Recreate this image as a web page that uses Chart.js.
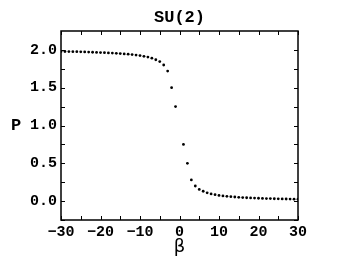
<!DOCTYPE html>
<html>
<head>
<meta charset="utf-8">
<script src="https://cdn.jsdelivr.net/npm/chart.js@4"></script>
<style>
    html, body { margin: 0; padding: 0; background: #fff; }
    #wrap { width: 346px; height: 265px; }
</style>
</head>
<body>
<div id="wrap"><canvas id="plot"></canvas></div>
<script>
// β qiymatlari (0 nuqtasi rasmda yo'q)
const betaValues = [
    -30, -29, -28, -27, -26, -25, -24, -23, -22, -21,
    -20, -19, -18, -17, -16, -15, -14, -13, -12, -11,
    -10, -9, -8, -7, -6, -5, -4, -3, -2, -1,
    1, 2, 3, 4, 5, 6, 7, 8, 9, 10,
    11, 12, 13, 14, 15, 16, 17, 18, 19, 20,
    21, 22, 23, 24, 25, 26, 27, 28, 29, 30
];

// P qiymatlari (rasmdan o'qilgan)
const pValues = [
    1.980, 1.979, 1.978, 1.977, 1.976, 1.974, 1.973, 1.971, 1.969, 1.967,
    1.965, 1.963, 1.960, 1.958, 1.955, 1.951, 1.947, 1.943, 1.938, 1.932,
    1.925, 1.915, 1.905, 1.890, 1.870, 1.845, 1.800, 1.720, 1.500, 1.250,
    0.750, 0.500, 0.280, 0.200, 0.155, 0.130, 0.110, 0.095, 0.085, 0.075,
    0.068, 0.063, 0.058, 0.054, 0.050, 0.047, 0.044, 0.042, 0.040, 0.038,
    0.036, 0.034, 0.033, 0.031, 0.030, 0.029, 0.028, 0.027, 0.026, 0.025
];

// O'q belgilari
const xTicks = [-30, -20, -10, 0, 10, 20, 30];
const yTicks = [0.0, 0.5, 1.0, 1.5, 2.0];

const titleText = 'SU(2)';
const xTitle = 'β';
const yTitle = 'P';

const monoFont = "'Liberation Mono', 'DejaVu Sans Mono', monospace";

/**
 * Ramka, ichki chiziqchalar va P yozuvi
 */
const framePlugin = {
    id: 'frame',
    afterDatasetsDraw(chart) {
        const { ctx, chartArea: a, scales } = chart;
        ctx.save();
        ctx.strokeStyle = '#000';
        ctx.lineWidth = 1;

        // Kichik belgilar - asosiy belgilar orasida
        const xAll = [];
        xTicks.forEach((v, i) => {
            xAll.push(v);
            if (i < xTicks.length - 1) xAll.push((v + xTicks[i + 1]) / 2);
        });
        const yAll = [];
        yTicks.forEach((v, i) => {
            yAll.push(v);
            if (i < yTicks.length - 1) yAll.push((v + yTicks[i + 1]) / 2);
        });
        yAll.push(yTicks[0] - 0.25 + 0.0001 > scales.y.min ? yTicks[0] - 0.25 : null);
        yAll.push(yTicks[yTicks.length - 1] + 0.25 < scales.y.max ? yTicks[yTicks.length - 1] + 0.25 : null);

        const len = 4;
        ctx.beginPath();
        xAll.forEach(v => {
            const px = Math.round(scales.x.getPixelForValue(v)) + 0.5;
            ctx.moveTo(px, a.bottom);
            ctx.lineTo(px, a.bottom - len);
            ctx.moveTo(px, a.top);
            ctx.lineTo(px, a.top + len);
        });
        yAll.forEach(v => {
            if (v === null) return;
            const py = Math.round(scales.y.getPixelForValue(v)) + 0.5;
            ctx.moveTo(a.left, py);
            ctx.lineTo(a.left + len, py);
            ctx.moveTo(a.right, py);
            ctx.lineTo(a.right - len, py);
        });
        ctx.stroke();

        ctx.lineWidth = 1.5;
        ctx.strokeRect(a.left, a.top, a.right - a.left, a.bottom - a.top);

        // Gorizontal P yozuvi
        ctx.fillStyle = '#000';
        ctx.font = 'bold 17px ' + monoFont;
        ctx.textAlign = 'center';
        ctx.textBaseline = 'middle';
        ctx.fillText(yTitle, 16, (a.top + a.bottom) / 2);
        ctx.restore();
    }
};

const chart = new Chart(document.getElementById('plot'), {
    type: 'scatter',
    data: {
        datasets: [{
            data: betaValues.map((b, i) => ({ x: b, y: pValues[i] })),
            backgroundColor: '#000',
            borderWidth: 0,
            pointRadius: 1.4,
            pointHoverRadius: 1.4
        }]
    },
    options: {
        responsive: true,
        maintainAspectRatio: false,
        animation: false,
        layout: {
            padding: { left: 0, right: 48, top: 0, bottom: 0 }
        },
        plugins: {
            legend: { display: false },
            tooltip: { enabled: false },
            title: {
                display: true,
                text: titleText,
                fullSize: false,
                color: '#000',
                font: { family: monoFont, size: 17, weight: 'bold', lineHeight: 1.2 },
                padding: { top: 8, bottom: 2.6 }
            }
        },
        scales: {
            x: {
                type: 'linear',
                min: -30,
                max: 30,
                afterBuildTicks: scale => {
                    scale.ticks = xTicks.map(v => ({ value: v }));
                },
                afterFit: scale => { scale.height = 45; },
                grid: { display: false, drawTicks: false },
                border: { display: false },
                ticks: {
                    color: '#000',
                    padding: 3,
                    maxRotation: 0,
                    font: { family: monoFont, size: 15, weight: 'bold' },
                    callback: v => String(v).replace('-', '\u2212')
                },
                title: {
                    display: true,
                    text: xTitle,
                    color: '#000',
                    font: { family: "'DejaVu Sans', sans-serif", size: 18 },
                    padding: { top: 0, bottom: 7 }
                }
            },
            y: {
                type: 'linear',
                min: -0.25,
                max: 2.25,
                afterBuildTicks: scale => {
                    scale.ticks = yTicks.map(v => ({ value: v }));
                },
                afterFit: scale => { scale.width = 61; },
                grid: { display: false, drawTicks: false },
                border: { display: false },
                ticks: {
                    color: '#000',
                    padding: 4,
                    font: { family: monoFont, size: 15, weight: 'bold' },
                    callback: v => v.toFixed(1)
                }
            }
        }
    },
    plugins: [framePlugin]
});
</script>
</body>
</html>
